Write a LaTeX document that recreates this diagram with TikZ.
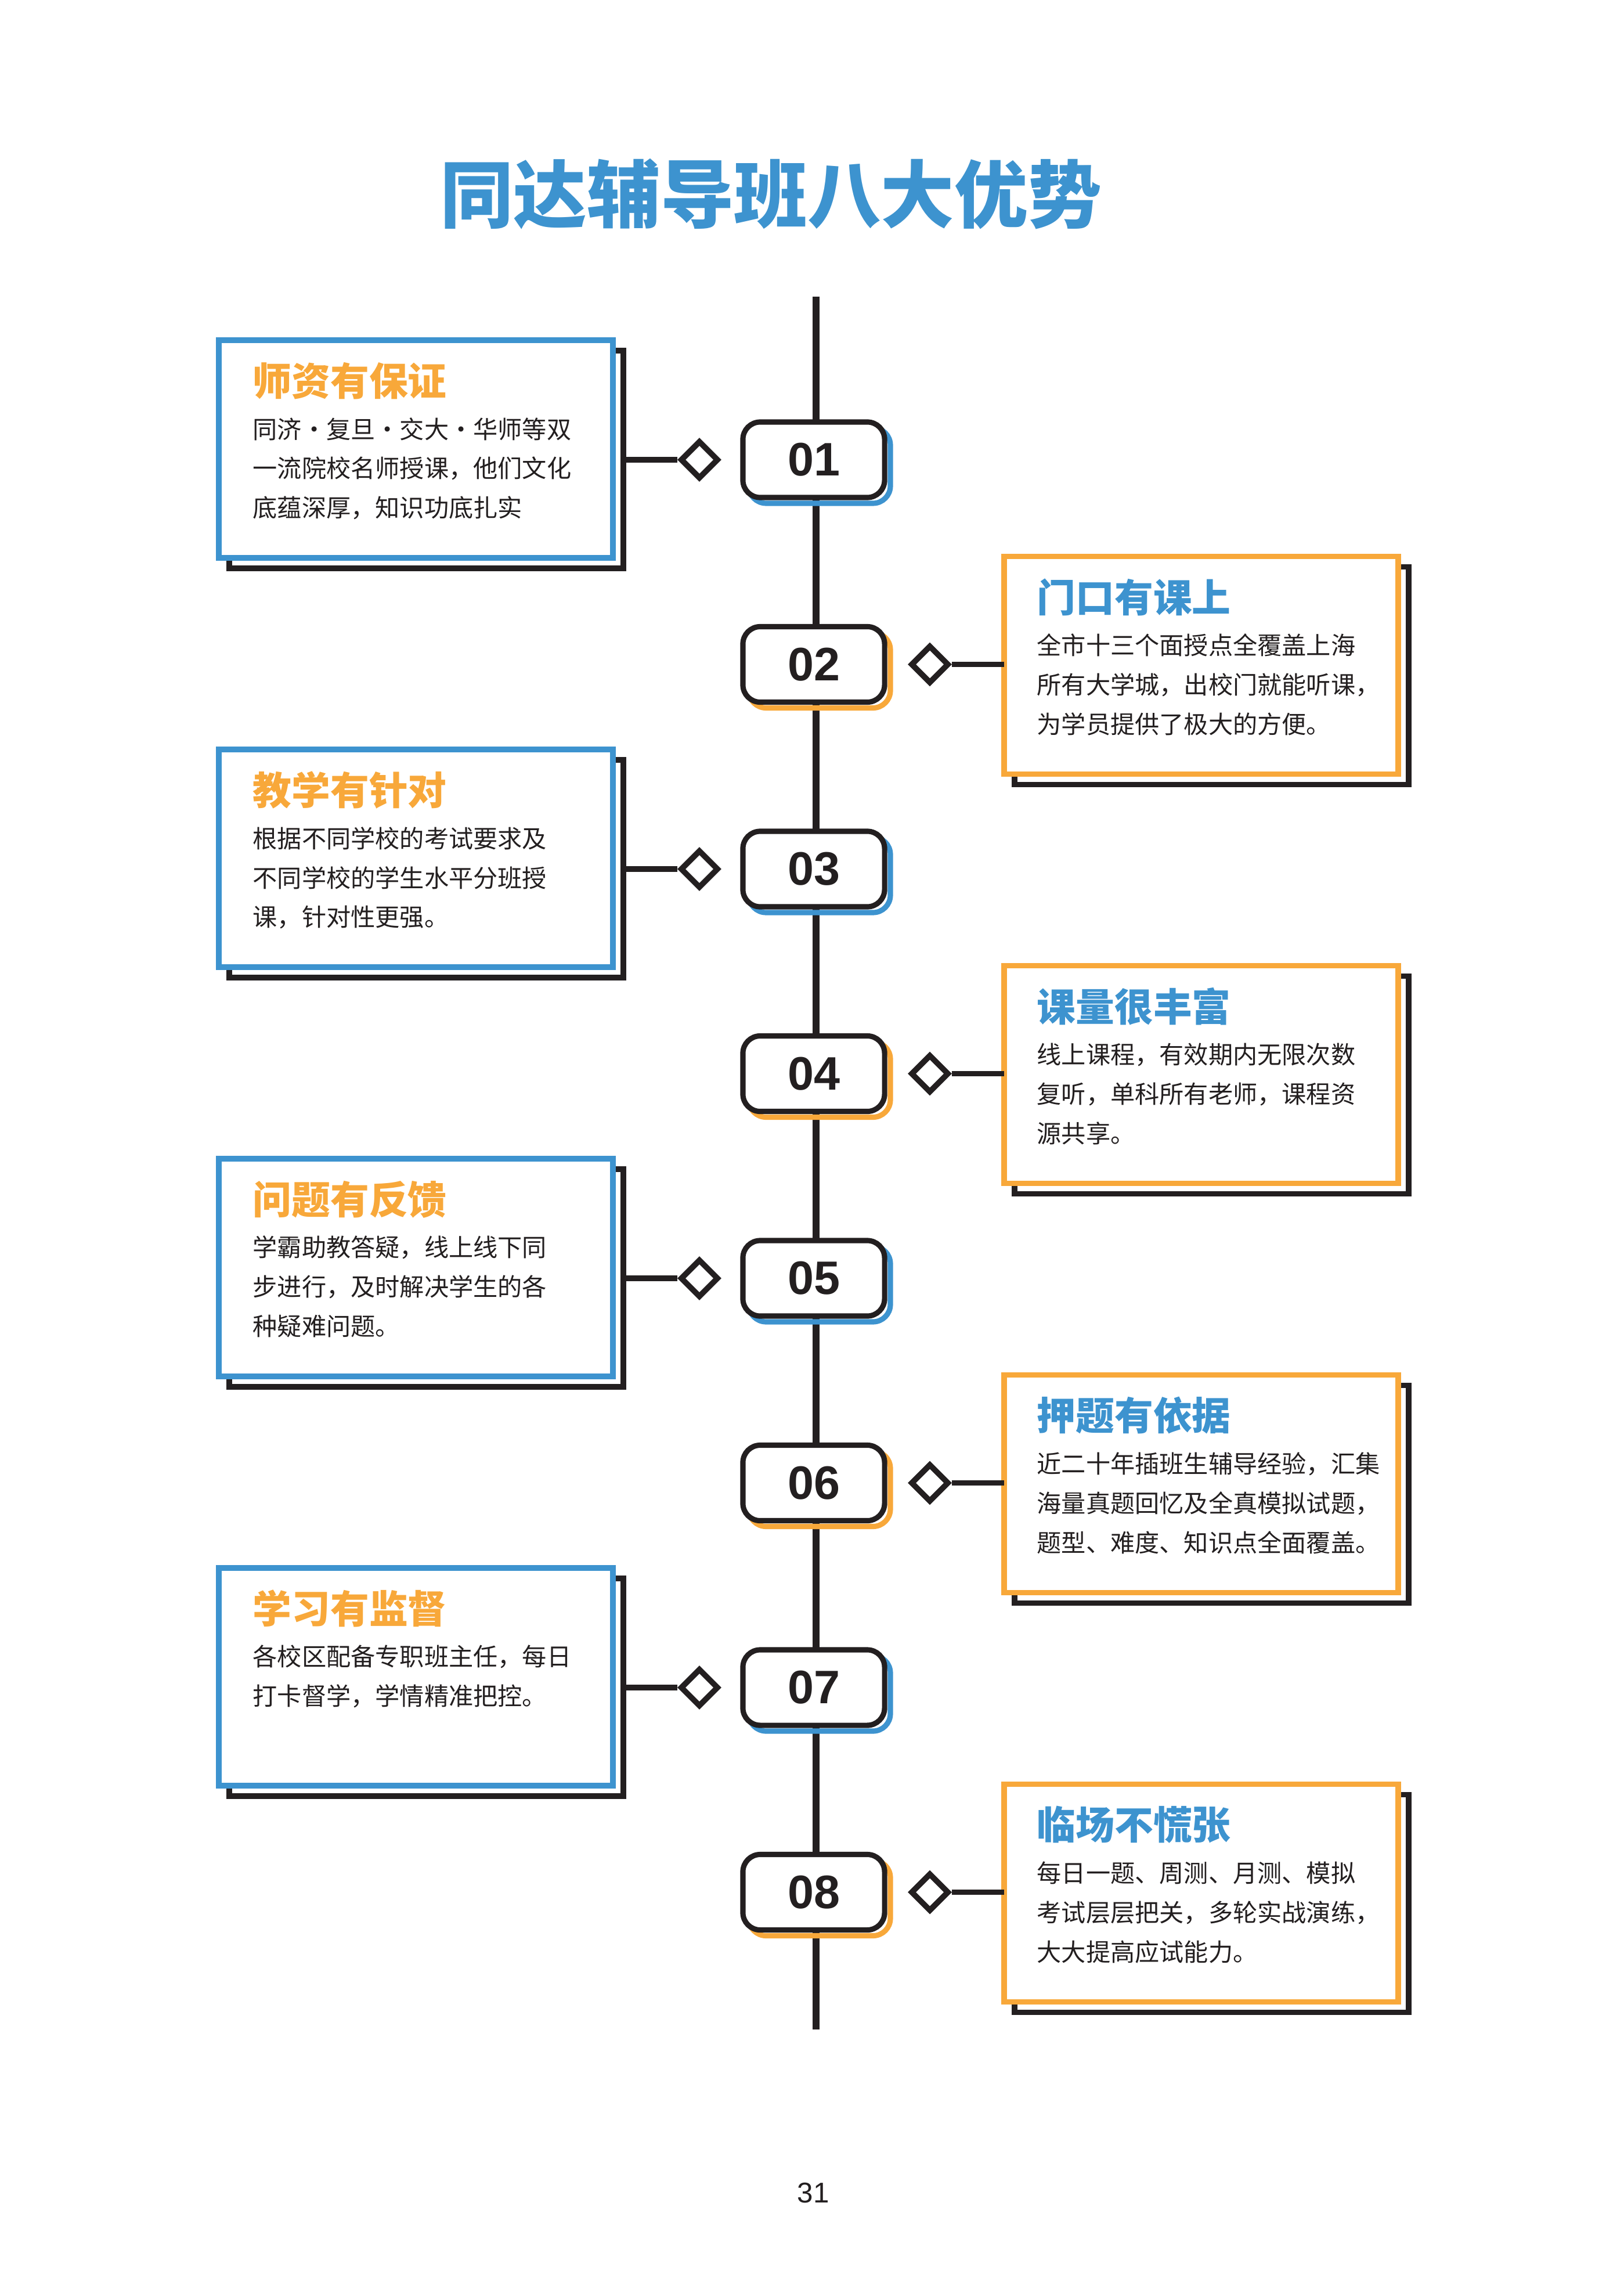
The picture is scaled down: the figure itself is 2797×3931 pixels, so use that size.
\documentclass[tikz,border=0pt]{standalone}
\usepackage{fontspec}
\usetikzlibrary{shapes.geometric}
\setmainfont{Noto Sans CJK SC}
\newfontfamily\numfont{Liberation Sans}
\definecolor{tblue}{HTML}{3D93CF}
\definecolor{torange}{HTML}{F8A83A}
\definecolor{tblack}{HTML}{231F20}
\begin{document}
\begin{tikzpicture}[x=0.01cm,y=-0.01cm,
  card/.style={draw=#1,line width=2.8pt,fill=white},
  cshadow/.style={draw=tblack,line width=2.8pt},
  numbox/.style={draw=tblack,line width=2.6pt,fill=white,rounded corners=8.5pt},
  numshadow/.style={draw=#1,line width=2.6pt,rounded corners=8.5pt},
  conn/.style={draw=tblack,line width=2.8pt},
  dia/.style={draw=tblack,line width=2.8pt,fill=white},
  ctitle/.style={font=\bfseries\fontsize{19}{22}\selectfont,text=#1,anchor=west,inner sep=0},
  cbody/.style={font=\fontsize{12}{14}\selectfont,text=tblack,anchor=west,inner sep=0},
  numtxt/.style={font=\numfont\bfseries\fontsize{23}{26}\selectfont,text=tblack}]
\useasboundingbox (0,0) rectangle (2797,3931);
\node[font=\bfseries\fontsize{36}{40}\selectfont,text=tblue] (title) at (1328,334) {同达辅导班八大优势};
\draw[draw=tblack,line width=3.4pt] (1406,511) coordinate (ltop) -- (1406,3496) coordinate (lbot);
\foreach \k/\t/\a/\b/\c in {
 1/师资有保证/同济・复旦・交大・华师等双/一流院校名师授课，他们文化/底蕴深厚，知识功底扎实,
 2/门口有课上/全市十三个面授点全覆盖上海/所有大学城，出校门就能听课，/为学员提供了极大的方便。,
 3/教学有针对/根据不同学校的考试要求及/不同学校的学生水平分班授/课，针对性更强。,
 4/课量很丰富/线上课程，有效期内无限次数/复听，单科所有老师，课程资/源共享。,
 5/问题有反馈/学霸助教答疑，线上线下同/步进行，及时解决学生的各/种疑难问题。,
 6/押题有依据/近二十年插班生辅导经验，汇集/海量真题回忆及全真模拟试题，/题型、难度、知识点全面覆盖。,
 7/学习有监督/各校区配备专职班主任，每日/打卡督学，学情精准把控。/,
 8/临场不慌张/每日一题、周测、月测、模拟/考试层层把关，多轮实战演练，/大大提高应试能力。}{
  \pgfmathsetmacro{\ny}{792+(\k-1)*352.5}
  \pgfmathtruncatemacro{\odd}{mod(\k,2)}
  \ifnum\odd=1
    \def\cx{377}\def\cxr{1056}\def\col{tblue}\def\tcol{torange}
    \pgfmathsetmacro{\ctop}{\ny-206}
    \def\dx{1205}\def\lx{1074}\def\tx{435}
  \else
    \def\cx{1730}\def\cxr{2409}\def\col{torange}\def\tcol{tblue}
    \pgfmathsetmacro{\ctop}{\ny-186}
    \def\dx{1602}\def\lx{1730}\def\tx{1786}
  \fi
  \pgfmathsetmacro{\cbot}{\ctop+375}
  \draw[cshadow] (\cx+18,\ctop+18) rectangle (\cxr+18,\cbot+18);
  \draw[card=\col] (\cx,\ctop) rectangle (\cxr,\cbot);
  \node[ctitle=\tcol] (t\k) at (\tx,\ctop+70) {\t};
  \node[cbody] (a\k) at (\tx,\ctop+153) {\a};
  \node[cbody] (b\k) at (\tx,\ctop+221) {\b};
  \node[cbody] (c\k) at (\tx,\ctop+289) {\c};
  \draw[numshadow=\col] (1290,\ny-55) rectangle (1534,\ny+75);
  \node[numbox,minimum width=2.44cm,minimum height=1.3cm,inner sep=0] (n\k) at (1402,\ny) {};
  \node[numtxt] (nt\k) at (1402,\ny) {0\k};
  \node[dia,diamond,minimum width=0.66cm,minimum height=0.66cm,inner sep=0] (d\k) at (\dx,\ny) {};
  \coordinate (e\k) at (\lx,\ny);
  \ifnum\odd=1
    \draw[conn] (e\k) -- (d\k.west);
  \else
    \draw[conn] (d\k.east) -- (e\k);
  \fi
}
\node[font=\numfont\fontsize{14}{16}\selectfont,text=tblack] (page) at (1401,3778) {31};
\end{tikzpicture}
\end{document}
